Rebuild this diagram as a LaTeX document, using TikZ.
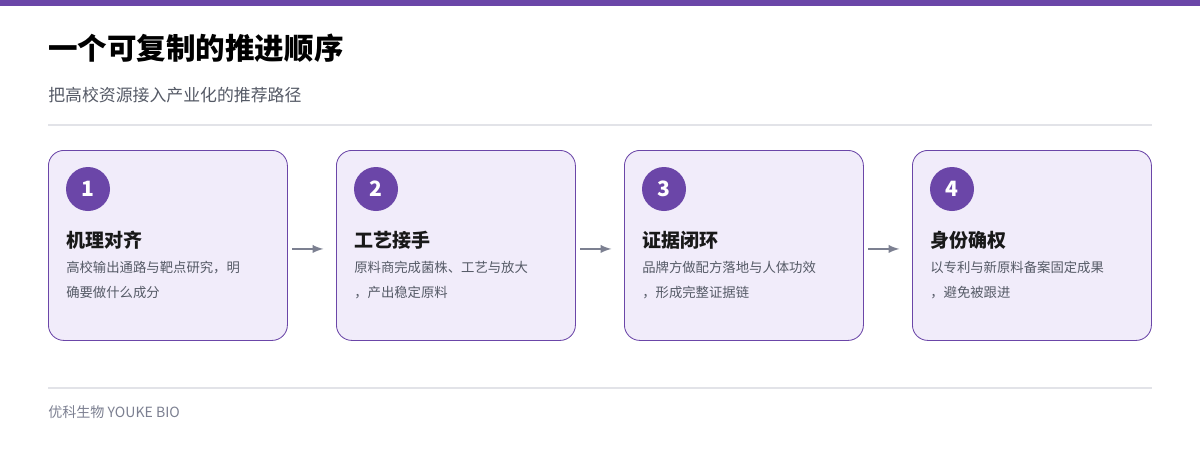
\documentclass[tikz,border=0pt]{standalone}
\usepackage{fontspec}
\setmainfont{Noto Sans CJK SC}
\usetikzlibrary{positioning}
\definecolor{grape}{HTML}{6B46A8}
\definecolor{lilac}{HTML}{F1ECFA}
\definecolor{inkgray}{HTML}{555A66}
\definecolor{rulegray}{HTML}{E2E3E8}
\definecolor{arrowgray}{HTML}{7C8091}
\tikzset{
  card/.style={draw=grape, fill=lilac, rounded corners=11pt, line width=0.6pt,
    minimum width=239*0.025cm, minimum height=190*0.025cm, anchor=north west},
  badge/.style={circle, fill=grape, text=white, minimum size=44*0.025cm, inner sep=0pt,
    font=\fontsize{15}{15}\selectfont\bfseries},
  head/.style={anchor=west, inner sep=0pt, font=\fontsize{13.5}{14}\selectfont\bfseries, text=black!90},
  body/.style={anchor=north west, inner sep=0pt, align=left, text=inkgray,
    font=\fontsize{9.5}{17.5}\selectfont},
  flowarrow/.style={-latex, arrowgray, line width=1.6pt}
}
\begin{document}
\begin{tikzpicture}[x=0.025cm,y=-0.025cm]
\useasboundingbox (0,0) rectangle (1200,450);
\fill[white] (0,0) rectangle (1200,450);
\fill[grape] (0,0) rectangle (1200,6);
\node[anchor=west, inner sep=0pt, font=\fontsize{21}{22}\selectfont\bfseries] (title) at (48,48) {一个可复制的推进顺序};
\node[anchor=west, inner sep=0pt, font=\fontsize{12}{13}\selectfont, text=inkgray] (sub) at (48,95) {把高校资源接入产业化的推荐路径};
\draw[rulegray, line width=0.8pt] (48,125) -- (1152,125);

% cards
\foreach \n/\x/\h/\a/\b in {1/48/机理对齐/高校输出通路与靶点研究，明/确要做什么成分,
                              2/336/工艺接手/原料商完成菌株、工艺与放大/，产出稳定原料,
                              3/624/证据闭环/品牌方做配方落地与人体功效/，形成完整证据链,
                              4/912/身份确权/以专利与新原料备案固定成果/，避免被跟进} {
  \node[card] (card\n) at (\x,150) {};
  \node[badge] (badge\n) at (\x+40,189) {\n};
  \node[head] (head\n) at (\x+18,240) {\h};
  \node[body] (body\n) at (\x+18,261) {\a\\\b};
}
\foreach \i/\j in {1/2,2/3,3/4}
  \draw[flowarrow] ([xshift=3pt,yshift=-2.5pt]card\i.east) -- ([xshift=-9pt,yshift=-2.5pt]card\j.west);

\draw[rulegray, line width=0.8pt] (48,388) -- (1152,388);
\node[anchor=west, inner sep=0pt, font=\fontsize{10}{11}\selectfont, text=arrowgray] (foot) at (48,412) {优科生物 YOUKE BIO};
\end{tikzpicture}
\end{document}
